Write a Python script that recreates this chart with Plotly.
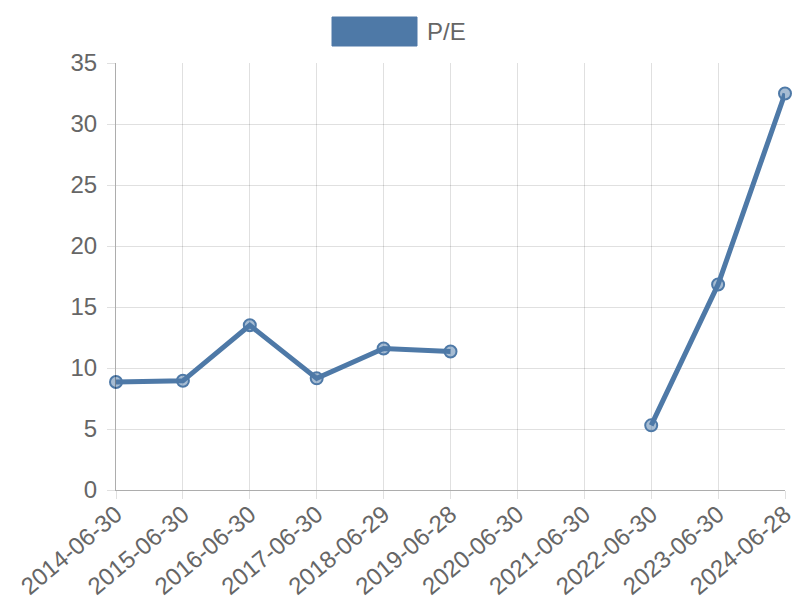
import plotly.graph_objects as go

dates = ["2014-06-30", "2015-06-30", "2016-06-30", "2017-06-30", "2018-06-29",
         "2019-06-28", "2020-06-30", "2021-06-30", "2022-06-30", "2023-06-30", "2024-06-28"]
pe = [8.85, 8.95, 13.5, 9.15, 11.6, 11.35, None, None, 5.3, 16.85, 32.5]
y_ticks = [0, 5, 10, 15, 20, 25, 30, 35]

blue = "rgb(78,121,167)"
font = "Liberation Sans, Arial, sans-serif"

# page body has an 8px default margin, so the figure is sized/offset for it
OFF = 8
L, T = 116 - OFF, 63 - OFF
W, H = 800 - OFF, 600 - OFF
PW, PH = 669, 427

fig = go.Figure()
fig.add_trace(go.Scatter(
    x=dates, y=pe, mode="lines+markers", name="P/E",
    line=dict(color=blue, width=5),
    marker=dict(size=12, color="rgba(78,121,167,0.5)", line=dict(color=blue, width=2)),
    connectgaps=False, showlegend=False, cliponaxis=False,
))

fig.update_layout(
    width=W, height=H,
    margin=dict(l=L, r=W - L - PW, t=T, b=H - T - PH),
    paper_bgcolor="white", plot_bgcolor="white",
    font=dict(family=font, color="#666", size=24),
    xaxis=dict(type="category", range=[0, 10], showgrid=True, gridcolor="rgba(0,0,0,0.12)",
               showline=True, linecolor="rgba(0,0,0,0.32)", linewidth=1,
               ticks="outside", ticklen=8, tickcolor="rgba(0,0,0,0.12)",
               tickangle=-40, tickfont=dict(size=24, color="#666"), zeroline=False,
               ticklabelstandoff=-8, automargin=False),
    yaxis=dict(range=[0, 35], tickvals=y_ticks, showgrid=True, gridcolor="rgba(0,0,0,0.12)",
               showline=True, linecolor="rgba(0,0,0,0.32)", linewidth=1,
               ticks="outside", ticklen=8, tickcolor="rgba(0,0,0,0.12)",
               tickfont=dict(size=24, color="#666"), zeroline=False,
               ticklabelstandoff=5, automargin=False),
)

fig.add_shape(type="rect", xref="paper", yref="paper",
              x0=(332 - 116) / PW, x1=(417 - 116) / PW,
              y0=(490 - 46) / PH, y1=(490 - 17) / PH,
              fillcolor=blue, line=dict(color=blue, width=1))
fig.add_annotation(text="P/E", xref="paper", yref="paper",
                   x=(425 - 116) / PW, y=(490 - 31.5) / PH, xanchor="left", yanchor="middle",
                   showarrow=False, font=dict(size=24, color="#666", family=font))

fig.write_html("out.html")
